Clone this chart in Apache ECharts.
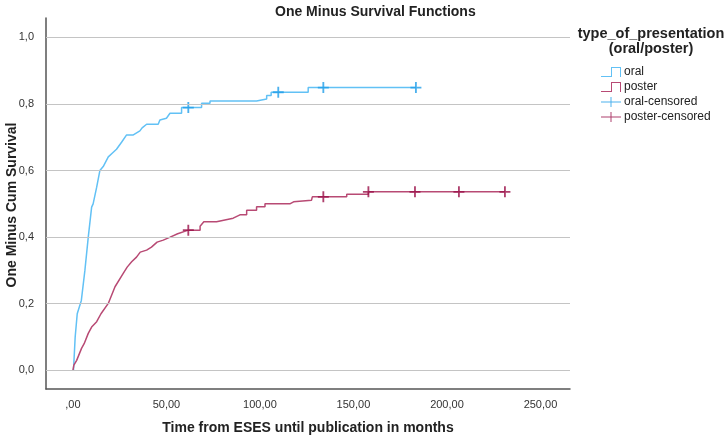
<!DOCTYPE html>
<html>
<head>
<meta charset="utf-8">
<script src="https://cdn.jsdelivr.net/npm/echarts@6/dist/echarts.min.js"></script>
<style>
  html, body { margin: 0; padding: 0; background: #fff; }
  #chart1 { width: 726px; height: 436px; }
</style>
</head>
<body>
<div id="chart1"></div>
<script>
// values: [months, one minus cum survival]
var oralCurve = [
    [0.3, 0], [1.2, 0.1], [2.3, 0.17], [3, 0.175], [4.5, 0.21], [6.4, 0.3], [8.2, 0.4],
    [10, 0.49], [10.8, 0.5], [12.7, 0.55], [14.4, 0.6], [16.2, 0.612], [18.9, 0.641],
    [21, 0.652], [23.3, 0.664], [26, 0.685], [28.7, 0.707], [32.3, 0.707], [33, 0.712],
    [35.8, 0.719], [37, 0.728], [39.4, 0.739], [45.6, 0.739], [46.5, 0.752], [50, 0.757],
    [51.9, 0.772], [58.1, 0.772], [58.1, 0.789], [68.8, 0.789], [68.8, 0.802], [73.3, 0.802],
    [73.3, 0.809], [98.2, 0.809], [98.2, 0.815], [103.6, 0.815], [103.6, 0.825], [106, 0.825],
    [106, 0.835], [125.8, 0.835], [125.8, 0.849], [183.4, 0.849]
];
var posterCurve = [
    [0, 0], [0.5, 0.016], [2, 0.03], [4.6, 0.066], [6, 0.08], [8.2, 0.111], [10, 0.13],
    [12.7, 0.146], [15, 0.17], [18.9, 0.201], [22.5, 0.251], [26.9, 0.291], [29, 0.31],
    [31.4, 0.326], [34, 0.34], [36, 0.355], [39.4, 0.361], [42, 0.37], [45, 0.385],
    [48.3, 0.391], [52, 0.4], [56, 0.41], [61.7, 0.421], [68, 0.421], [68, 0.433],
    [70, 0.446], [76.8, 0.446], [76.8, 0.452], [85.7, 0.457], [89.3, 0.467], [92.9, 0.467],
    [92.9, 0.481], [98.2, 0.481], [98.2, 0.491], [102.7, 0.491], [102.7, 0.5], [116, 0.5],
    [116, 0.506], [118, 0.506], [118, 0.511], [127.6, 0.511], [128, 0.521], [146.4, 0.521],
    [146.4, 0.529], [158, 0.529], [158, 0.536], [231, 0.536]
];
var oralCensored = [[61.7, 0.789], [109.8, 0.835], [133.9, 0.849], [183.4, 0.849]];
var posterCensored = [[61.7, 0.421], [133.9, 0.521], [158, 0.536], [182.9, 0.536], [206.4, 0.536], [231, 0.536]];

var xTicks = [0, 50, 100, 150, 200, 250];
var yTicks = [0, 0.2, 0.4, 0.6, 0.8, 1.0];

var stepIcon = 'path://M0,9 L10,9 L10,0 L20,0 L20,10 L19,10 L19,1 L11,1 L11,10 L0,10 Z';
var plusIcon = 'path://M0,4.5 L9.5,4.5 L9.5,0 L10.5,0 L10.5,4.5 L20,4.5 L20,5.5 L10.5,5.5 L10.5,10 L9.5,10 L9.5,5.5 L0,5.5 Z';
var plusSymbol = 'path://M0,5 L5,5 L5,0 L7,0 L7,5 L12,5 L12,7 L7,7 L7,12 L5,12 L5,7 L0,7 Z';

var font = '"Liberation Sans", Arial, sans-serif';
var narrow = '"Liberation Sans Narrow", "Liberation Sans", Arial, sans-serif';

var chartDom = document.getElementById('chart1');
var myChart1 = echarts.init(chartDom);

var gridLines = [];
for (var i = 0; i < yTicks.length; i++) {
    gridLines.push({ yAxis: yTicks[i] });
}

var option = {
    animation: false,
    backgroundColor: '#ffffff',
    title: {
        text: 'One Minus Survival Functions',
        left: 270,
        top: 0,
        textStyle: { fontFamily: font, fontSize: 14, fontWeight: 'bold', color: '#222' }
    },
    graphic: [
        {
            type: 'text',
            x: 651,
            y: 26,
            style: {
                text: 'type_of_presentation\n(oral/poster)',
                align: 'center',
                font: 'bold 14.5px ' + font,
                lineHeight: 15,
                fill: '#222'
            }
        },
        {
            // y axis title, placed by hand so it sits close to the tick labels
            type: 'text',
            x: 12,
            y: 205,
            rotation: Math.PI / 2,
            style: {
                text: 'One Minus Cum Survival',
                align: 'center',
                verticalAlign: 'middle',
                font: 'bold 14px ' + font,
                fill: '#222'
            }
        }
    ],
    legend: {
        orient: 'vertical',
        left: 596,
        top: 61,
        itemWidth: 22,
        itemHeight: 10,
        itemGap: 3,
        textStyle: { fontFamily: narrow, fontSize: 12, color: '#222', padding: [0, 0, 0, -3] },
        data: [
            { name: 'oral', icon: stepIcon },
            { name: 'poster', icon: stepIcon },
            { name: 'oral-censored', icon: plusIcon },
            { name: 'poster-censored', icon: plusIcon }
        ]
    },
    grid: { left: 46, top: 18, right: 156, bottom: 47, containLabel: false, outerBoundsMode: 'none' },
    xAxis: {
        type: 'value',
        min: -14.4,
        max: 265.8,
        name: 'Time from ESES until publication in months',
        nameLocation: 'middle',
        nameGap: 32,
        nameTextStyle: { fontFamily: font, fontSize: 14, fontWeight: 'bold', color: '#222' },
        axisLine: { show: true, onZero: false, lineStyle: { color: '#555', width: 1.5 } },
        axisTick: { show: false },
        splitLine: { show: false },
        axisLabel: {
            customValues: xTicks,
            margin: 10,
            fontFamily: narrow,
            fontSize: 11,
            color: '#333',
            formatter: function (value) {
                return value === 0 ? ',00' : value.toFixed(2).replace('.', ',');
            }
        }
    },
    yAxis: {
        type: 'value',
        min: -0.056,
        max: 1.058,
        axisLine: { show: true, onZero: false, lineStyle: { color: '#555', width: 1.5 } },
        axisTick: { show: false },
        splitLine: { show: false },
        axisLabel: {
            customValues: yTicks,
            margin: 12,
            fontFamily: font,
            fontSize: 11,
            color: '#333',
            formatter: function (value) {
                return value.toFixed(1).replace('.', ',');
            }
        }
    },
    series: [
        {
            name: 'gridlines',
            type: 'line',
            data: [],
            z: 1,
            silent: true,
            markLine: {
                silent: true,
                symbol: 'none',
                label: { show: false },
                lineStyle: { color: '#c4c4c4', width: 1, type: 'solid' },
                data: gridLines
            }
        },
        {
            name: 'oral',
            type: 'line',
            data: oralCurve,
            showSymbol: false,
            z: 3,
            itemStyle: { color: '#62c1f5' },
            lineStyle: { color: '#62c1f5', width: 1.5 }
        },
        {
            name: 'poster',
            type: 'line',
            data: posterCurve,
            showSymbol: false,
            z: 3,
            itemStyle: { color: '#b84a74' },
            lineStyle: { color: '#b84a74', width: 1.5 }
        },
        {
            name: 'oral-censored',
            type: 'scatter',
            data: oralCensored,
            symbol: plusSymbol,
            symbolSize: 11,
            z: 4,
            itemStyle: { color: '#1f9de8' }
        },
        {
            name: 'poster-censored',
            type: 'scatter',
            data: posterCensored,
            symbol: plusSymbol,
            symbolSize: 11,
            z: 4,
            itemStyle: { color: '#9a1048' }
        }
    ]
};
myChart1.setOption(option);
</script>
</body>
</html>
